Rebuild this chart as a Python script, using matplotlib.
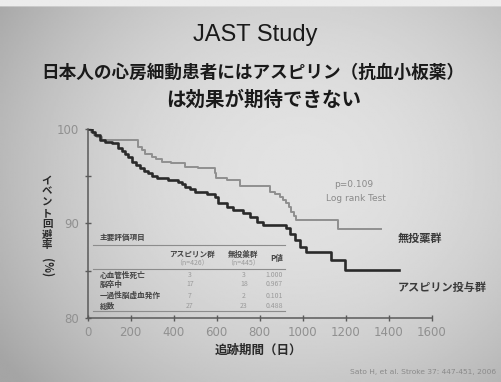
import numpy as np
import matplotlib.pyplot as plt

plt.rcParams['font.family'] = ['Noto Sans CJK JP', 'DejaVu Sans']

W, H = 501, 382

# Kaplan-Meier steps: day of event and event-free rate (%) after it,
# the last pair closes the curve at the end of follow-up
aspirin_days = [0, 20, 35, 58, 81, 112, 143, 160, 174, 190, 205, 225, 244, 262,
                282, 300, 321, 375, 421, 440, 452, 475, 499, 553, 591, 607, 646,
                676, 723, 754, 785, 815, 924, 940, 962, 986, 1017, 1133, 1194, 1445]
aspirin_rate = [100, 99.7, 99.37, 98.84, 98.6, 98.5, 98.0, 97.7, 97.4, 97.0, 96.5,
                96.2, 95.84, 95.55, 95.3, 95.0, 94.78, 94.6, 94.4, 94.15, 93.9,
                93.6, 93.37, 93.1, 92.84, 92.14, 91.78, 91.4, 91.1, 90.72, 90.19,
                89.84, 89.49, 88.9, 88.25, 87.55, 87.0, 86.1, 85.05, 85.05]

none_days = [0, 15, 30, 43, 66, 236, 252, 267, 298, 320, 344, 390, 452, 514, 591,
             599, 650, 707, 846, 870, 893, 910, 924, 935, 947, 958, 970, 1163, 1362]
none_rate = [100, 99.7, 99.4, 99.2, 98.84, 98.13, 97.8, 97.4, 97.07, 96.8, 96.54,
             96.37, 96.0, 95.84, 95.3, 94.78, 94.6, 93.97, 93.37, 93.1, 92.84,
             92.5, 92.14, 91.7, 91.25, 90.8, 90.37, 89.39, 89.39]

x_ticks = [0, 200, 400, 600, 800, 1000, 1200, 1400, 1600]
y_ticks = [80, 85, 90, 95, 100]
y_tick_labels = ['80', '', '90', '', '100']

# primary endpoint table
endpoints = ['心血管性死亡', '脳卒中', '一過性脳虚血発作', '総数']
aspirin_events = [3, 17, 7, 27]
none_events = [3, 18, 2, 23]
p_values = ['1.000', '0.967', '0.101', '0.488']


def fx(px):
    return px / W


def fy(py):
    return 1 - py / H


fig = plt.figure(figsize=(W / 100, H / 100), dpi=100)

# slide background: projected light, darker towards the edges
bg = fig.add_axes([0, 0, 1, 1], zorder=-10)
gx, gy = np.meshgrid(np.linspace(0, 1, 300), np.linspace(0, 1, 240))
shade = 226 - 48 * (((gx - 0.6) / 0.65) ** 2 + ((gy - 0.45) / 0.75) ** 2)
shade[:4, :] = 236
shade = np.clip(shade, 165, 236) / 255
bg.imshow(shade, cmap='gray', vmin=0, vmax=1, aspect='auto',
          extent=[0, 1, 1, 0], interpolation='bilinear')
bg.set_xlim(0, 1)
bg.set_ylim(1, 0)
bg.axis('off')

ax = fig.add_axes([fx(87.5), fy(318), fx(432 - 87.5), (318 - 129) / H])
ax.patch.set_alpha(0)

ax.step(none_days, none_rate, where='post', color='#8f8f8f', lw=1.4)
ax.step(aspirin_days, aspirin_rate, where='post', color='#2a2a2a', lw=1.9)

ax.set_xlim(0, 1600)
ax.set_ylim(80, 100)
ax.set_xticks(x_ticks)
ax.set_yticks(y_ticks)
ax.set_yticklabels(y_tick_labels)
for side in ['top', 'right']:
    ax.spines[side].set_visible(False)
for side in ['left', 'bottom']:
    ax.spines[side].set_color('#5a5a5a')
    ax.spines[side].set_linewidth(1.1)
ax.tick_params(direction='inout', length=4, width=1, color='#5a5a5a',
               labelsize=8.5, labelcolor='#909090', pad=4)
for lab in ax.get_xticklabels() + ax.get_yticklabels():
    lab.set_family('DejaVu Sans')

fig.text(fx(354), fy(185), 'p=0.109', fontsize=6.5, color='#8a8a8a',
         ha='center', va='center', family='DejaVu Sans')
fig.text(fx(356), fy(198), 'Log rank Test', fontsize=6.5, color='#8a8a8a',
         ha='center', va='center', family='DejaVu Sans')

fig.text(fx(398), fy(238), '無投薬群', fontsize=8, fontweight='bold',
         color='#3a3a3a', ha='left', va='center')
fig.text(fx(398), fy(287), 'アスピリン投与群', fontsize=8, fontweight='bold',
         color='#3a3a3a', ha='left', va='center')

# titles
fig.text(fx(255), fy(35), 'JAST Study', fontsize=17, color='#1a1a1a',
         ha='center', va='center', family='Liberation Sans')
fig.text(fx(253), fy(73), '日本人の心房細動患者にはアスピリン（抗血小板薬）',
         fontsize=12.7, fontweight='bold', color='#1a1a1a', ha='center', va='center')
fig.text(fx(264), fy(100), 'は効果が期待できない', fontsize=14, fontweight='bold',
         color='#1a1a1a', ha='center', va='center')

# axis labels
fig.text(fx(258), fy(350), '追跡期間（日）', fontsize=9, fontweight='bold',
         color='#2a2a2a', ha='center', va='center')
fig.text(fx(47), fy(213), '\n'.join('イベント回避率'), fontsize=7.5,
         fontweight='bold', color='#2a2a2a', ha='center', va='center',
         linespacing=1.1)
fig.text(fx(47), fy(268), '(%)', fontsize=8, fontweight='bold',
         color='#2a2a2a', ha='center', va='center', rotation=-90)

# table of primary endpoints
tab_dark = '#454545'
tab_light = '#9a9a9a'
fig.text(fx(100), fy(237), '主要評価項目', fontsize=5.5, fontweight='bold',
         color=tab_dark, ha='left', va='center')
for py in [245, 268.5, 311]:
    fig.add_artist(plt.Line2D([fx(93), fx(285)], [fy(py), fy(py)],
                              color='#8c8c8c', lw=0.8))
fig.text(fx(192), fy(254), 'アスピリン群', fontsize=5.5, fontweight='bold',
         color=tab_dark, ha='center', va='center')
fig.text(fx(192), fy(263), '（n=426）', fontsize=5, color=tab_light,
         ha='center', va='center')
fig.text(fx(243), fy(254), '無投薬群', fontsize=5.5, fontweight='bold',
         color=tab_dark, ha='center', va='center')
fig.text(fx(243), fy(263), '（n=445）', fontsize=5, color=tab_light,
         ha='center', va='center')
fig.text(fx(277), fy(259), 'P値', fontsize=5.5, fontweight='bold',
         color=tab_dark, ha='center', va='center')
row_y = [275, 284.5, 295.5, 306]
for name, a, n, p, py in zip(endpoints, aspirin_events, none_events, p_values, row_y):
    fig.text(fx(100), fy(py), name, fontsize=5.5, fontweight='bold',
             color=tab_dark, ha='left', va='center')
    fig.text(fx(190), fy(py), str(a), fontsize=5, color=tab_light,
             ha='center', va='center')
    fig.text(fx(244), fy(py), str(n), fontsize=5, color=tab_light,
             ha='center', va='center')
    fig.text(fx(283), fy(py), p, fontsize=5, color=tab_light,
             ha='right', va='center')

fig.text(fx(496), fy(372), 'Sato H, et al. Stroke 37: 447-451, 2006',
         fontsize=5.4, color='#8a8a8a', ha='right', va='center',
         family='DejaVu Sans')

fig.savefig('out.png', dpi=100)
